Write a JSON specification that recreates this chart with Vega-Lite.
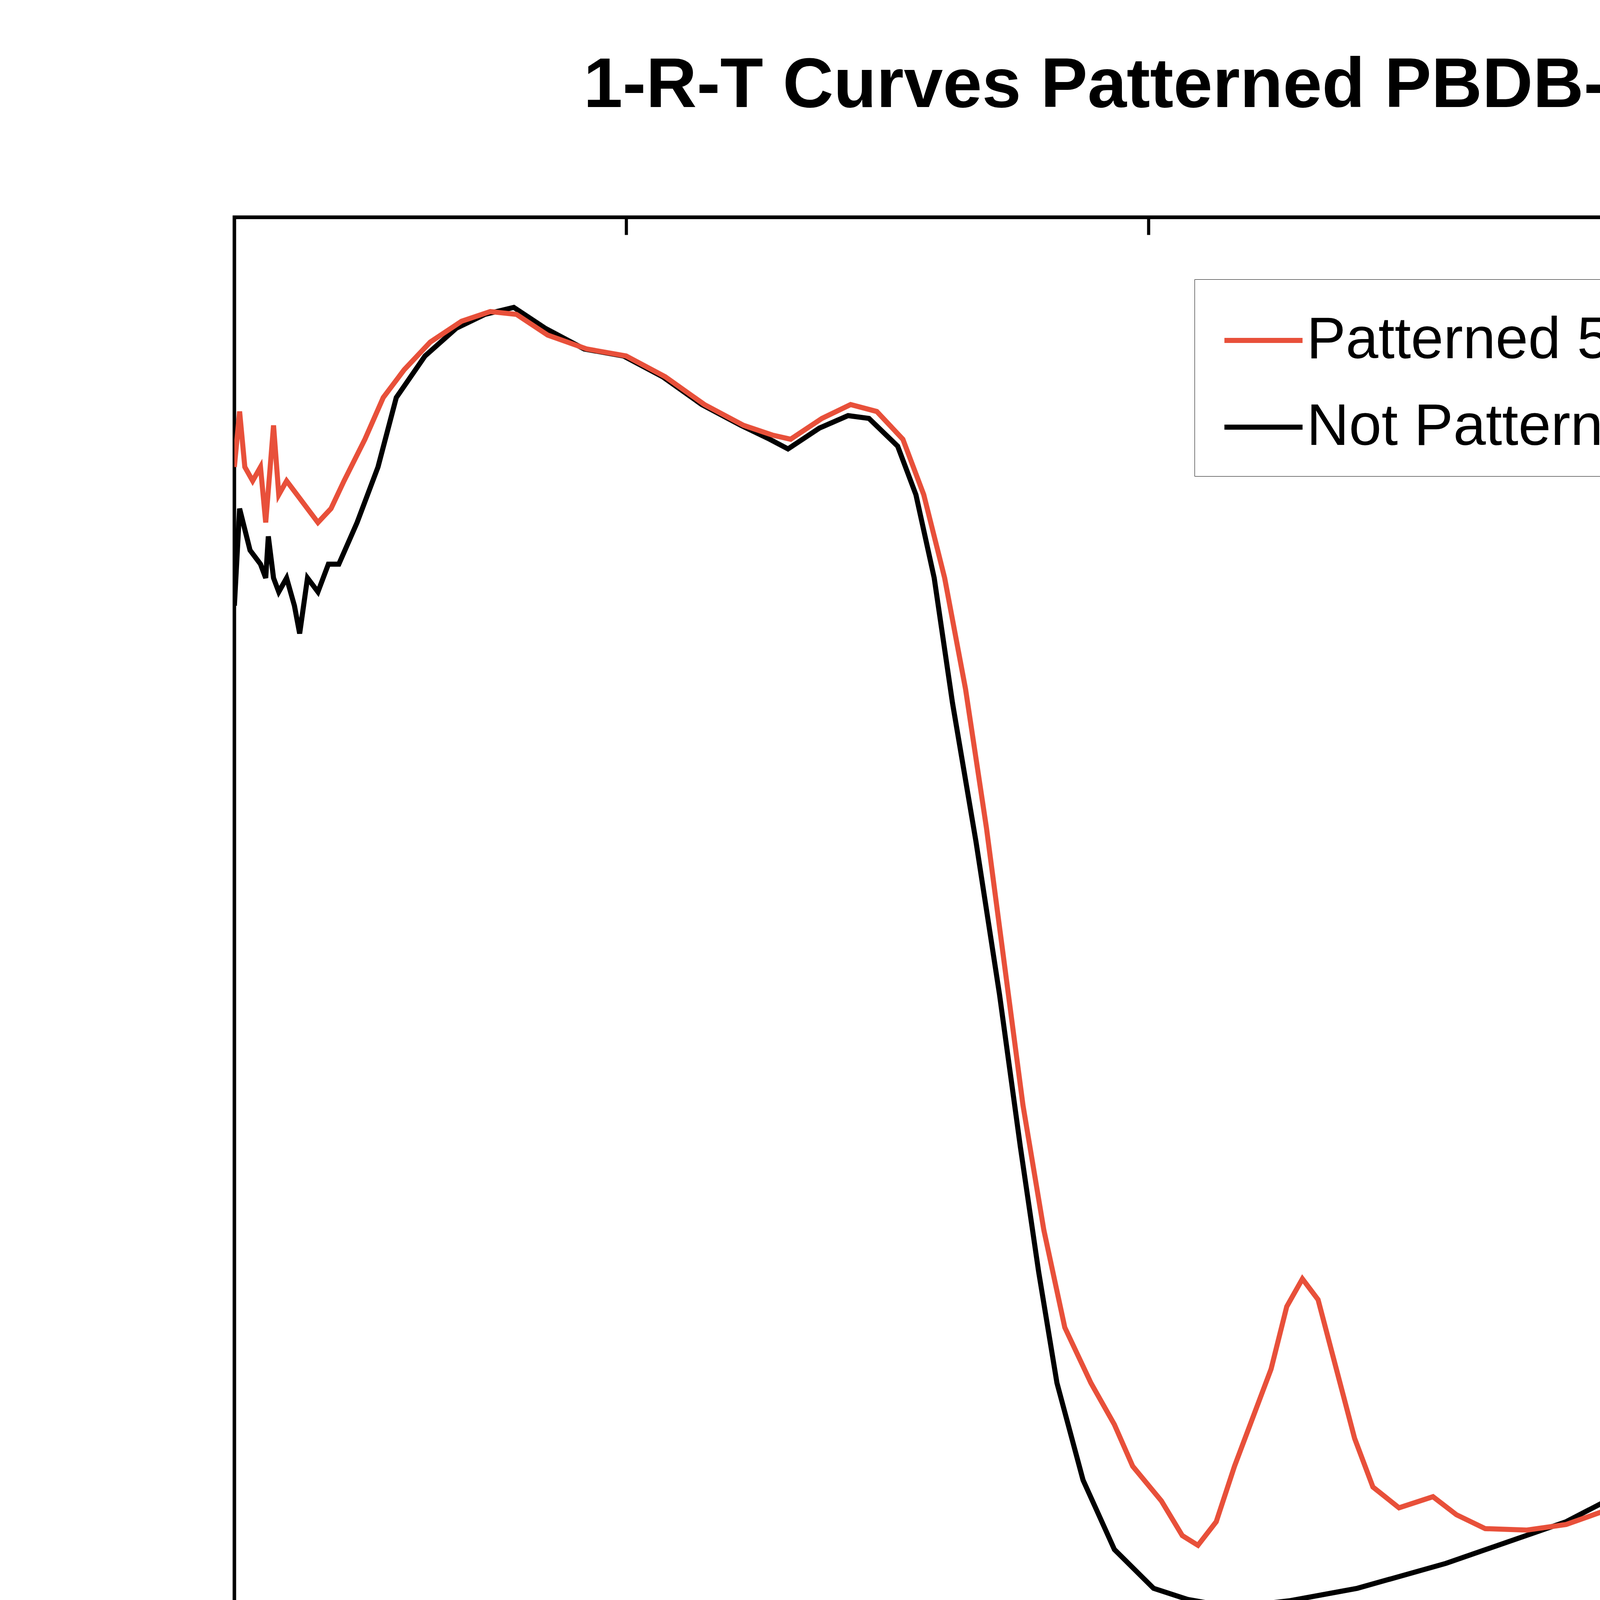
{
  "$schema": "https://vega.github.io/schema/vega-lite/v6.json",
  "width": 6840,
  "height": 4764,
  "autosize": {"type": "fit", "contains": "padding"},
  "padding": {"left": 600, "top": 130, "right": 883, "bottom": 300},
  "background": "white",
  "title": {"text": "1-R-T Curves Patterned PBDB-T:ITIC 1%DIO", "font": "Liberation Sans", "fontSize": 180, "fontWeight": "bold", "anchor": "middle", "dx": 90, "offset": 240, "color": "black"},
  "config": {
    "font": "Liberation Sans",
    "view": {"stroke": "black", "strokeWidth": 9},
    "axis": {"domainColor": "black", "domainWidth": 9, "tickColor": "black", "tickWidth": 8, "tickSize": -45, "grid": false, "labelFontSize": 108, "labelColor": "black", "titleFontSize": 150, "titleFontWeight": "normal", "titleColor": "black"}
  },
  "data": {"values": [
    {"s":"Not Patterned","w":450,"v":0.72},{"s":"Not Patterned","w":452,"v":0.79},{"s":"Not Patterned","w":456,"v":0.76},{"s":"Not Patterned","w":460,"v":0.75},{"s":"Not Patterned","w":462,"v":0.74},{"s":"Not Patterned","w":463,"v":0.77},{"s":"Not Patterned","w":465,"v":0.74},{"s":"Not Patterned","w":467,"v":0.73},{"s":"Not Patterned","w":470,"v":0.74},{"s":"Not Patterned","w":473,"v":0.72},{"s":"Not Patterned","w":475,"v":0.70},{"s":"Not Patterned","w":478,"v":0.74},{"s":"Not Patterned","w":482,"v":0.73},{"s":"Not Patterned","w":486,"v":0.75},{"s":"Not Patterned","w":490,"v":0.75},{"s":"Not Patterned","w":497,"v":0.78},{"s":"Not Patterned","w":505,"v":0.82},{"s":"Not Patterned","w":512,"v":0.87},{"s":"Not Patterned","w":523,"v":0.90},{"s":"Not Patterned","w":535,"v":0.92},{"s":"Not Patterned","w":546,"v":0.93},{"s":"Not Patterned","w":557,"v":0.935},{"s":"Not Patterned","w":569,"v":0.92},{"s":"Not Patterned","w":584,"v":0.905},{"s":"Not Patterned","w":599,"v":0.90},{"s":"Not Patterned","w":614,"v":0.885},{"s":"Not Patterned","w":629,"v":0.865},{"s":"Not Patterned","w":644,"v":0.85},{"s":"Not Patterned","w":655,"v":0.84},{"s":"Not Patterned","w":662,"v":0.833},{"s":"Not Patterned","w":674,"v":0.848},{"s":"Not Patterned","w":685,"v":0.857},{"s":"Not Patterned","w":693,"v":0.855},{"s":"Not Patterned","w":704,"v":0.835},{"s":"Not Patterned","w":711,"v":0.80},{"s":"Not Patterned","w":718,"v":0.74},{"s":"Not Patterned","w":725,"v":0.65},{"s":"Not Patterned","w":734,"v":0.55},{"s":"Not Patterned","w":743,"v":0.44},{"s":"Not Patterned","w":751,"v":0.33},{"s":"Not Patterned","w":758,"v":0.24},{"s":"Not Patterned","w":765,"v":0.16},{"s":"Not Patterned","w":775,"v":0.09},{"s":"Not Patterned","w":787,"v":0.04},{"s":"Not Patterned","w":802,"v":0.012},{"s":"Not Patterned","w":815,"v":0.004},{"s":"Not Patterned","w":824,"v":0.001},{"s":"Not Patterned","w":840,"v":0.0},{"s":"Not Patterned","w":854,"v":0.003},{"s":"Not Patterned","w":880,"v":0.012},{"s":"Not Patterned","w":914,"v":0.03},{"s":"Not Patterned","w":960,"v":0.06},{"s":"Not Patterned","w":1001,"v":0.1},{"s":"Not Patterned","w":1035,"v":0.15},{"s":"Not Patterned","w":1065,"v":0.2},{"s":"Not Patterned","w":1100,"v":0.265},{"s":"Not Patterned","w":1132,"v":0.33},{"s":"Not Patterned","w":1155,"v":0.38},{"s":"Not Patterned","w":1177,"v":0.42},{"s":"Not Patterned","w":1197,"v":0.455},{"s":"Not Patterned","w":1215,"v":0.49},{"s":"Not Patterned","w":1224,"v":0.485},{"s":"Not Patterned","w":1230,"v":0.495},{"s":"Not Patterned","w":1234,"v":0.488},{"s":"Not Patterned","w":1241,"v":0.50},{"s":"Not Patterned","w":1246,"v":0.47},{"s":"Not Patterned","w":1251,"v":0.43},
    {"s":"Patterned 500 nm","w":450,"v":0.82},{"s":"Patterned 500 nm","w":452,"v":0.86},{"s":"Patterned 500 nm","w":454,"v":0.82},{"s":"Patterned 500 nm","w":457,"v":0.81},{"s":"Patterned 500 nm","w":460,"v":0.82},{"s":"Patterned 500 nm","w":462,"v":0.78},{"s":"Patterned 500 nm","w":465,"v":0.85},{"s":"Patterned 500 nm","w":467,"v":0.80},{"s":"Patterned 500 nm","w":470,"v":0.81},{"s":"Patterned 500 nm","w":474,"v":0.80},{"s":"Patterned 500 nm","w":478,"v":0.79},{"s":"Patterned 500 nm","w":482,"v":0.78},{"s":"Patterned 500 nm","w":487,"v":0.79},{"s":"Patterned 500 nm","w":492,"v":0.81},{"s":"Patterned 500 nm","w":500,"v":0.84},{"s":"Patterned 500 nm","w":507,"v":0.87},{"s":"Patterned 500 nm","w":515,"v":0.89},{"s":"Patterned 500 nm","w":525,"v":0.91},{"s":"Patterned 500 nm","w":537,"v":0.925},{"s":"Patterned 500 nm","w":548,"v":0.932},{"s":"Patterned 500 nm","w":558,"v":0.93},{"s":"Patterned 500 nm","w":570,"v":0.915},{"s":"Patterned 500 nm","w":585,"v":0.905},{"s":"Patterned 500 nm","w":600,"v":0.90},{"s":"Patterned 500 nm","w":615,"v":0.885},{"s":"Patterned 500 nm","w":630,"v":0.865},{"s":"Patterned 500 nm","w":645,"v":0.85},{"s":"Patterned 500 nm","w":656,"v":0.843},{"s":"Patterned 500 nm","w":663,"v":0.84},{"s":"Patterned 500 nm","w":675,"v":0.855},{"s":"Patterned 500 nm","w":686,"v":0.865},{"s":"Patterned 500 nm","w":696,"v":0.86},{"s":"Patterned 500 nm","w":706,"v":0.84},{"s":"Patterned 500 nm","w":714,"v":0.80},{"s":"Patterned 500 nm","w":722,"v":0.74},{"s":"Patterned 500 nm","w":730,"v":0.66},{"s":"Patterned 500 nm","w":738,"v":0.56},{"s":"Patterned 500 nm","w":745,"v":0.46},{"s":"Patterned 500 nm","w":752,"v":0.36},{"s":"Patterned 500 nm","w":760,"v":0.27},{"s":"Patterned 500 nm","w":768,"v":0.2},{"s":"Patterned 500 nm","w":778,"v":0.16},{"s":"Patterned 500 nm","w":787,"v":0.13},{"s":"Patterned 500 nm","w":794,"v":0.1},{"s":"Patterned 500 nm","w":805,"v":0.075},{"s":"Patterned 500 nm","w":813,"v":0.05},{"s":"Patterned 500 nm","w":819,"v":0.043},{"s":"Patterned 500 nm","w":826,"v":0.06},{"s":"Patterned 500 nm","w":833,"v":0.1},{"s":"Patterned 500 nm","w":839,"v":0.13},{"s":"Patterned 500 nm","w":847,"v":0.17},{"s":"Patterned 500 nm","w":853,"v":0.215},{"s":"Patterned 500 nm","w":859,"v":0.235},{"s":"Patterned 500 nm","w":865,"v":0.22},{"s":"Patterned 500 nm","w":872,"v":0.17},{"s":"Patterned 500 nm","w":879,"v":0.12},{"s":"Patterned 500 nm","w":886,"v":0.085},{"s":"Patterned 500 nm","w":896,"v":0.07},{"s":"Patterned 500 nm","w":909,"v":0.078},{"s":"Patterned 500 nm","w":918,"v":0.065},{"s":"Patterned 500 nm","w":929,"v":0.055},{"s":"Patterned 500 nm","w":945,"v":0.054},{"s":"Patterned 500 nm","w":960,"v":0.058},{"s":"Patterned 500 nm","w":990,"v":0.078},{"s":"Patterned 500 nm","w":1012,"v":0.1},{"s":"Patterned 500 nm","w":1045,"v":0.145},{"s":"Patterned 500 nm","w":1080,"v":0.2},{"s":"Patterned 500 nm","w":1105,"v":0.25},{"s":"Patterned 500 nm","w":1132,"v":0.3},{"s":"Patterned 500 nm","w":1160,"v":0.36},{"s":"Patterned 500 nm","w":1189,"v":0.43},{"s":"Patterned 500 nm","w":1205,"v":0.47},{"s":"Patterned 500 nm","w":1211,"v":0.485},{"s":"Patterned 500 nm","w":1219,"v":0.48},{"s":"Patterned 500 nm","w":1225,"v":0.495},{"s":"Patterned 500 nm","w":1229,"v":0.505},{"s":"Patterned 500 nm","w":1235,"v":0.505},{"s":"Patterned 500 nm","w":1238,"v":0.51},{"s":"Patterned 500 nm","w":1242,"v":0.49},{"s":"Patterned 500 nm","w":1246,"v":0.46},{"s":"Patterned 500 nm","w":1250,"v":0.425}
  ]},
  "layer": [
    {
      "mark": {"type": "line", "strokeWidth": 13, "clip": true},
      "encoding": {
        "x": {"field": "w", "type": "quantitative", "scale": {"domain": [450, 1250], "nice": false, "zero": false}, "title": "Wavelength (nm)", "axis": {"values": [600, 800, 1000, 1200], "format": "d", "labelPadding": 90, "titlePadding": 90}},
        "y": {"field": "v", "type": "quantitative", "scale": {"domain": [-0.1, 1.0], "nice": false, "zero": false}, "title": "1-R-T", "axis": {"values": [0, 0.2, 0.4, 0.6, 0.8, 1.0], "format": ".1f", "labelPadding": 80, "titlePadding": 130}},
        "color": {"field": "s", "type": "nominal", "sort": ["Patterned 500 nm", "Not Patterned"], "scale": {"domain": ["Patterned 500 nm", "Not Patterned"], "range": ["#e8503a", "#000000"]}, "legend": {"title": null, "orient": "none", "legendX": 2458, "legendY": 159, "symbolType": "stroke", "symbolStrokeWidth": 13, "symbolSize": 40000, "labelFontSize": 150, "labelColor": "black", "rowPadding": 40, "padding": 50, "strokeColor": "black", "fillColor": "white", "labelLimit": 3000, "symbolOffset": 20}}
      }
    },
    {
      "mark": {"type": "line", "opacity": 0},
      "encoding": {
        "x": {"field": "w", "type": "quantitative", "axis": {"orient": "top", "labels": false, "title": null, "values": [500, 600, 700, 800, 900, 1000, 1100, 1200]}},
        "y": {"field": "v", "type": "quantitative", "axis": {"orient": "right", "labels": false, "title": null, "values": [-0.1, 0, 0.1, 0.2, 0.3, 0.4, 0.5, 0.6, 0.7, 0.8, 0.9, 1.0]}},
        "detail": {"field": "s"}
      }
    }
  ]
}
